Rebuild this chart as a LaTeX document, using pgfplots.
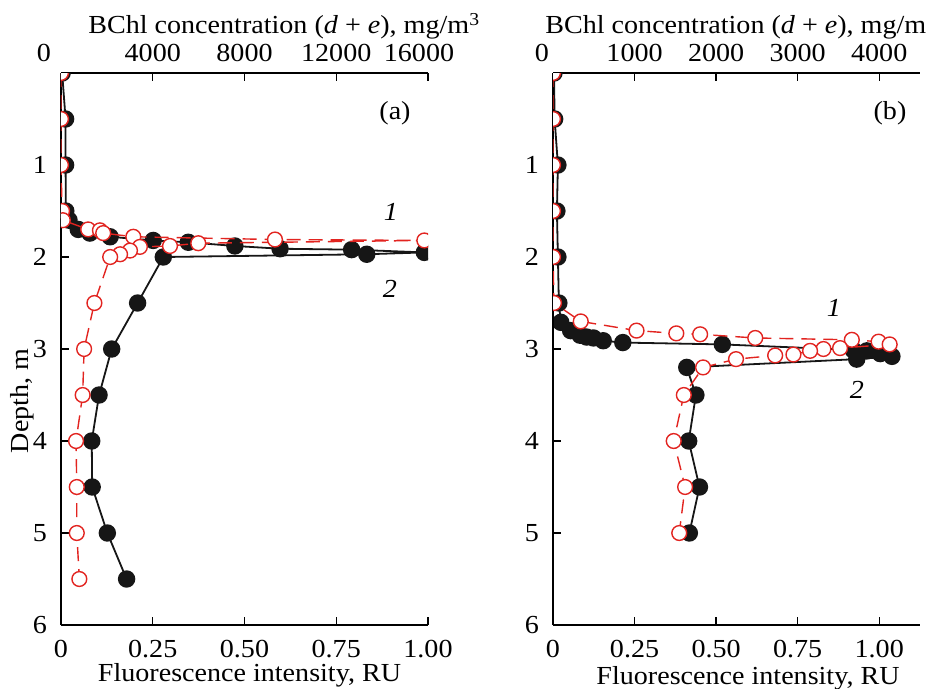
\documentclass[border=0pt]{standalone}
\usepackage{fontspec}
\setmainfont{Liberation Serif}[FakeStretch=1.08]
\usepackage{pgfplots}
\pgfplotsset{compat=1.18}

\definecolor{profred}{RGB}{226,36,32}
\definecolor{profblack}{RGB}{22,22,22}

% 1 px of the reference = 0.5pt, origin at the top left corner
\pgfplotsset{
  panel/.style={
    scale only axis, width=183.5pt, height=276pt, anchor=south west,
    ymin=0, ymax=6, y dir=reverse,
    axis line style={line width=0.7pt},
    tick align=inside, major tick length=4pt,
    tick style={line width=0.7pt, black},
    clip mode=individual, clip marker paths=true,
  },
  fluoraxis/.style={panel,
    xmin=0, axis x line*=bottom, axis y line*=left,
    ytick={1,2,3,4,5,6}, yticklabels={1,2,3,4,5,6},
    xtick={0,0.25,0.5,0.75,1}, xticklabels={0,0.25,0.50,0.75,1.00},
    xticklabel style={inner sep=1pt, yshift=-6.3pt},
    yticklabel style={xshift=-2.5pt},
  },
  bchlaxis/.style={panel,
    xmin=0, axis x line*=top, axis y line=none,
    scaled x ticks=false,
    xticklabel style={yshift=1pt},
  },
  curve1/.style={profred, line width=0.7pt, dash pattern=on 7pt off 4pt,
    mark=*, mark size=3.7pt,
    mark options={solid, fill=white, draw=profred, line width=0.7pt}},
  curve2/.style={profblack, line width=0.9pt,
    mark=*, mark size=3.9pt, mark options={fill=profblack}},
}

\begin{document}
\fontsize{13}{15}\selectfont
\begin{tikzpicture}
\useasboundingbox (0pt,0pt) rectangle (463pt,-344.5pt);

% ---------------- (a) ----------------
\begin{axis}[bchlaxis, at={(30.5pt,-312.5pt)}, xmax=16000,
  xtick={0,4000,8000,12000,16000},
  xticklabels={\makebox[0pt]{\kern-17pt 0},4000,8000,12000,\makebox[0pt]{\kern-9pt 16000}}]
\addplot[curve2] coordinates {
  (50,0) (200,0.5) (200,1.0) (210,1.5) (350,1.6) (750,1.70) (1260,1.74)
  (2140,1.78) (4020,1.82) (5550,1.84) (7580,1.88) (9550,1.91) (12670,1.92)
  (15840,1.95) (13330,1.97) (4460,2.0) (3340,2.5) (2210,3.0) (1660,3.5)
  (1340,4.0) (1360,4.5) (2020,5.0) (2860,5.5)};
\end{axis}
\begin{axis}[fluoraxis, at={(30.5pt,-312.5pt)}, xmax=1]
\addplot[curve1] coordinates {
  (0,0) (0,0.5) (0,1.0) (0.003,1.5) (0.005,1.6) (0.074,1.70) (0.106,1.71)
  (0.115,1.74) (0.197,1.78) (0.583,1.81) (0.99,1.82) (0.374,1.85)
  (0.297,1.88) (0.215,1.89) (0.188,1.93) (0.161,1.97) (0.134,2.0)
  (0.091,2.5) (0.063,3.0) (0.059,3.5) (0.041,4.0) (0.043,4.5) (0.043,5.0)
  (0.05,5.5)};
\end{axis}

% ---------------- (b) ----------------
\begin{axis}[bchlaxis, at={(276.5pt,-312.5pt)}, xmax=4500,
  xtick={0,1000,2000,3000,4000},
  xticklabels={\makebox[0pt]{\kern-11pt 0},1000,2000,3000,4000}]
\addplot[curve2] coordinates {
  (12,0) (20,0.5) (60,1.0) (48,1.5) (60,2.0) (72,2.5) (96,2.71) (216,2.80)
  (332,2.85) (412,2.87) (496,2.88) (616,2.91) (856,2.93) (2076,2.95)
  (3680,3.01) (3848,3.02) (4012,3.05) (4156,3.08) (3724,3.11) (1640,3.2)
  (1752,3.5) (1664,4.0) (1796,4.5) (1672,5.0)};
\end{axis}
\begin{axis}[fluoraxis, at={(276.5pt,-312.5pt)}, xmax=1.125]
\addplot[curve1] coordinates {
  (0,0) (0,0.5) (0,1.0) (0,1.5) (0,2.0) (0.003,2.5) (0.085,2.70)
  (0.256,2.80) (0.378,2.83) (0.451,2.84) (0.62,2.88) (0.916,2.90)
  (0.998,2.92) (1.032,2.95) (0.88,2.99) (0.829,3.0) (0.788,3.02)
  (0.737,3.06) (0.681,3.07) (0.561,3.11) (0.46,3.2) (0.401,3.5)
  (0.37,4.0) (0.405,4.5) (0.387,5.0)};
\end{axis}

% ---------------- labels ----------------
\node[anchor=base west, inner sep=0pt] at (44pt,-17pt)
  {BChl concentration (\textit{d} + \textit{e}), mg/m\textsuperscript{3}};
\node[anchor=base west, inner sep=0pt] at (272.5pt,-17pt)
  {BChl concentration (\textit{d} + \textit{e}), mg/m\textsuperscript{3}};
\node[anchor=base, inner sep=0pt] at (124.75pt,-340.5pt) {Fluorescence intensity, RU};
\node[anchor=base, inner sep=0pt] at (374pt,-342pt) {Fluorescence intensity, RU};
\node[rotate=90] at (11pt,-200.5pt) {Depth, m};
\node at (197.5pt,-56.5pt) {(a)};
\node at (445pt,-56.5pt) {(b)};
\node at (195.5pt,-106pt) {\textit{1}};
\node at (195pt,-144.5pt) {\textit{2}};
\node at (417pt,-154pt) {\textit{1}};
\node at (428.5pt,-195pt) {\textit{2}};
\end{tikzpicture}
\end{document}
